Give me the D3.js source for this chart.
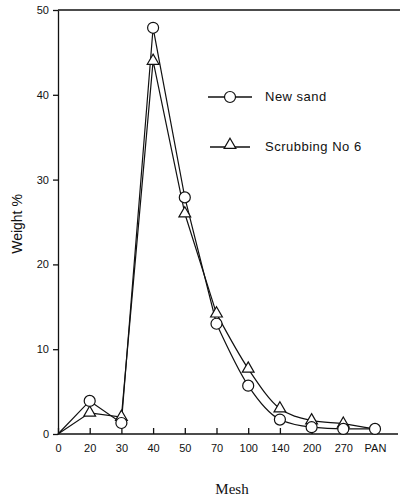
<!DOCTYPE html>
<html>
<head>
<meta charset="utf-8">
<script src="https://cdn.jsdelivr.net/npm/d3@7"></script>
<style>
  body { margin: 0; background: #fff; }
  text { font-family: "Liberation Sans", Arial, sans-serif; fill: #111; }
</style>
</head>
<body>
<div id="chart"></div>
<script>
const FRAME_WIDTH = 403;
const FRAME_HEIGHT = 500;
const MARGINS = {left: 58, right: 5, top: 10, bottom: 66};

// data
const MESH = ["0", "20", "30", "40", "50", "70", "100", "140", "200", "270", "PAN"];
const NEW_SAND = [0, 3.9, 1.3, 47.9, 27.9, 13.0, 5.7, 1.7, 0.8, 0.6, 0.6];
const SCRUBBING = [0, 2.5, 2.0, 44.0, 26.0, 14.2, 7.7, 3.0, 1.6, 1.2, 0.6];
const Y_TICKS = [0, 10, 20, 30, 40, 50];

const AXIS_Y = FRAME_HEIGHT - MARGINS.bottom; // 434

const svg = d3.select("#chart")
  .append("svg")
    .attr("width", FRAME_WIDTH)
    .attr("height", FRAME_HEIGHT);

const X_SCALE = d3.scalePoint()
  .domain(MESH)
  .range([MARGINS.left, 375]);

const Y_SCALE = d3.scaleLinear()
  .domain([0, 50])
  .range([AXIS_Y, MARGINS.top]);

// frame: top rule
svg.append("line")
  .attr("x1", MARGINS.left).attr("x2", 400)
  .attr("y1", Y_SCALE(50)).attr("y2", Y_SCALE(50))
  .attr("stroke", "#111").attr("stroke-width", 1.3);

// y axis
const yAxis = svg.append("g")
  .attr("transform", "translate(" + MARGINS.left + ",0)")
  .call(d3.axisLeft(Y_SCALE).tickValues(Y_TICKS).tickSize(5).tickSizeOuter(0).tickPadding(4));
yAxis.selectAll("text").attr("font-size", "11px");

// x axis
const xAxis = svg.append("g")
  .attr("transform", "translate(0," + AXIS_Y + ")")
  .call(d3.axisBottom(X_SCALE).tickSize(-6).tickSizeOuter(0).tickPadding(10));
xAxis.select(".domain").attr("d", "M" + MARGINS.left + ",0H398");
xAxis.selectAll("text").attr("font-size", "11px");
svg.selectAll(".domain, .tick line").attr("stroke", "#111").attr("stroke-width", 1.3);

// axis titles
svg.append("text")
  .attr("transform", "translate(22," + (AXIS_Y - 210) + ") rotate(-90)")
  .attr("text-anchor", "middle")
  .attr("font-size", "14px")
  .text("Weight %");

svg.append("text")
  .attr("x", 232).attr("y", 494)
  .attr("text-anchor", "middle")
  .attr("font-size", "15px")
  .style("font-family", "'Liberation Serif', serif")
  .text("Mesh");

// lines: straight up to 70 mesh, smooth tail after that
const straight = d3.line()
  .x((d) => X_SCALE(d.m))
  .y((d) => Y_SCALE(d.v));
const smooth = d3.line()
  .x((d) => X_SCALE(d.m))
  .y((d) => Y_SCALE(d.v))
  .curve(d3.curveMonotoneX);

function drawSeries(values) {
  const pts = MESH.map((m, i) => ({m: m, v: values[i]}));
  svg.append("path")
    .datum(pts.slice(0, 6))
    .attr("d", straight)
    .attr("fill", "none").attr("stroke", "#111").attr("stroke-width", 1.2);
  svg.append("path")
    .datum(pts.slice(5))
    .attr("d", smooth)
    .attr("fill", "none").attr("stroke", "#111").attr("stroke-width", 1.2);
  return pts;
}

const triPts = drawSeries(SCRUBBING);
const circPts = drawSeries(NEW_SAND);

const triangle = d3.symbol().type(d3.symbolTriangle).size(60);

svg.selectAll(".tri")
  .data(triPts.slice(1, 10))
  .enter()
  .append("path")
    .attr("class", "tri")
    .attr("d", triangle)
    .attr("transform", (d) => "translate(" + X_SCALE(d.m) + "," + Y_SCALE(d.v) + ")")
    .attr("fill", "#fff").attr("stroke", "#111").attr("stroke-width", 1.2);

svg.selectAll(".circ")
  .data(circPts.slice(1))
  .enter()
  .append("circle")
    .attr("class", "circ")
    .attr("cx", (d) => X_SCALE(d.m))
    .attr("cy", (d) => Y_SCALE(d.v))
    .attr("r", 5.5)
    .attr("fill", "#fff").attr("stroke", "#111").attr("stroke-width", 1.2);

// legend
const legend = svg.append("g");
legend.append("line")
  .attr("x1", 208).attr("x2", 252).attr("y1", 97).attr("y2", 97)
  .attr("stroke", "#111").attr("stroke-width", 1.3);
legend.append("circle")
  .attr("cx", 230).attr("cy", 97).attr("r", 5.5)
  .attr("fill", "#fff").attr("stroke", "#111").attr("stroke-width", 1.2);
legend.append("text")
  .attr("x", 265).attr("y", 101)
  .attr("font-size", "13px")
  .attr("letter-spacing", "0.5px")
  .text("New sand");

legend.append("line")
  .attr("x1", 210).attr("x2", 250).attr("y1", 147).attr("y2", 147)
  .attr("stroke", "#111").attr("stroke-width", 1.3);
legend.append("path")
  .attr("d", triangle)
  .attr("transform", "translate(230,145)")
  .attr("fill", "#fff").attr("stroke", "#111").attr("stroke-width", 1.2);
legend.append("text")
  .attr("x", 265).attr("y", 151)
  .attr("font-size", "13px")
  .attr("letter-spacing", "0.5px")
  .text("Scrubbing No 6");
</script>
</body>
</html>
